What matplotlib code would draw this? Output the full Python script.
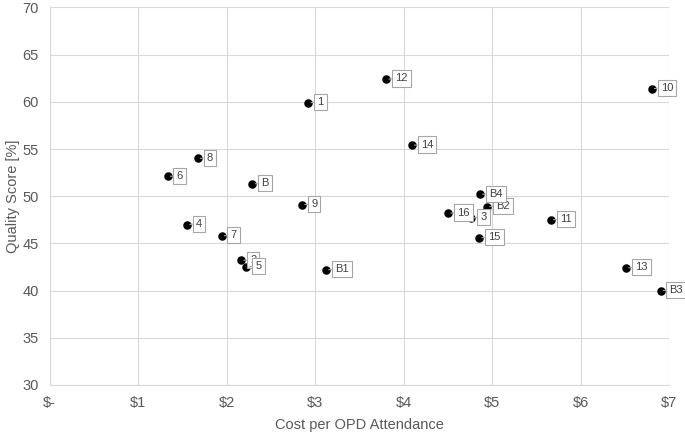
import matplotlib.pyplot as plt
from matplotlib.ticker import FuncFormatter

# facility labels, cost per OPD attendance ($) and quality score (%)
labels = ['1', '2', '3', '4', '5', '6', '7', '8', '9', '10', '11', '12',
          '13', '14', '15', '16', 'B', 'B1', 'B2', 'B3', 'B4']
cost = [2.92, 2.16, 4.76, 1.55, 2.22, 1.33, 1.94, 1.67, 2.85, 6.80, 5.66, 3.80,
        6.51, 4.09, 4.85, 4.50, 2.29, 3.12, 4.94, 6.90, 4.86]
quality = [59.9, 43.2, 47.7, 47.0, 42.5, 52.1, 45.8, 54.0, 49.1, 61.4, 47.5, 62.4,
           42.4, 55.4, 45.6, 48.2, 51.3, 42.2, 48.9, 40.0, 50.2]

plt.rcParams['font.family'] = ['Liberation Sans', 'DejaVu Sans']

fig = plt.figure(figsize=(6.85, 4.37), dpi=100)
ax = fig.add_axes([0.0727, 0.119, 0.9045, 0.864])

ax.scatter(cost, quality, s=26, color='black', zorder=3)

for lab, x, y in zip(labels, cost, quality):
    ax.annotate(lab, (x, y), xytext=(6.5, 0.5), textcoords='offset points',
                ha='left', va='center', fontsize=8, color='#404040', zorder=4,
                bbox=dict(boxstyle='square,pad=0.28', fc='white', ec='#a6a6a6', lw=0.8),
                arrowprops=dict(arrowstyle='-', color='#a6a6a6', lw=0.8,
                                shrinkA=0, shrinkB=2))

ax.set_xlim(0, 7)
ax.set_ylim(30, 70)
ax.set_xticks(range(0, 8))
ax.set_yticks(range(30, 71, 5))
ax.xaxis.set_major_formatter(FuncFormatter(lambda v, p: '$-' if v == 0 else '$%d' % v))

ax.grid(True, color='#d9d9d9', lw=0.8)
ax.set_axisbelow(True)
for side in ['top', 'right']:
    ax.spines[side].set_visible(False)
for side in ['left', 'bottom']:
    ax.spines[side].set_color('#d9d9d9')
ax.tick_params(length=0, labelsize=10.5, colors='#595959', pad=8)

ax.set_xlabel('Cost per OPD Attendance', fontsize=10.5, color='#595959', labelpad=6)
ax.set_ylabel('Quality Score [%]', fontsize=10.5, color='#595959', labelpad=2)

fig.savefig('out.png', dpi=100)
